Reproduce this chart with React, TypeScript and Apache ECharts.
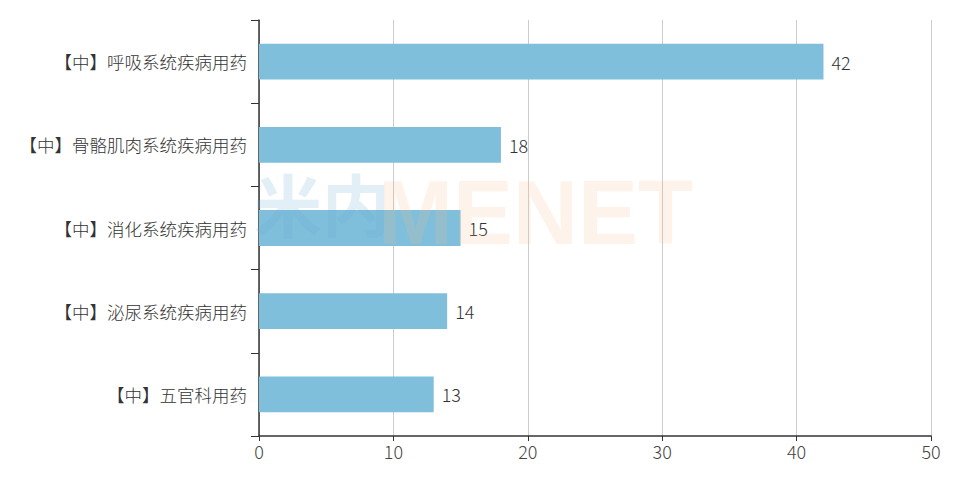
import React, { useEffect, useRef } from "react";
import * as echarts from "echarts";

const categories = [
  "【中】呼吸系统疾病用药",
  "【中】骨骼肌肉系统疾病用药",
  "【中】消化系统疾病用药",
  "【中】泌尿系统疾病用药",
  "【中】五官科用药",
];
const values = [42, 18, 15, 14, 13];
const xTicks = { min: 0, max: 50, interval: 10 };

export default function App() {
  const ref = useRef<HTMLDivElement>(null);
  useEffect(() => {
    if (!ref.current) return;
    const chart = echarts.init(ref.current, null, { renderer: "svg" });
    const font = "'Noto Sans CJK SC', 'Open Sans', sans-serif";
    chart.setOption({
      animation: false,
      backgroundColor: "#fff",
      grid: { left: 251, right: 36, top: 12, bottom: 49, containLabel: false },
      xAxis: {
        type: "value",
        min: xTicks.min,
        max: xTicks.max,
        interval: xTicks.interval,
        axisLine: { show: true, lineStyle: { color: "#333", width: 1.5 } },
        axisTick: { show: true, length: 5, lineStyle: { color: "#333" } },
        axisLabel: { color: "#444", fontSize: 18, fontWeight: 300, fontFamily: font, margin: 6 },
        splitLine: { show: true, lineStyle: { color: "#ccc", width: 1 } },
      },
      yAxis: {
        type: "category",
        inverse: true,
        data: categories,
        axisLine: { show: true, lineStyle: { color: "#333", width: 1.5 } },
        axisTick: { show: true, length: 8, lineStyle: { color: "#333" } },
        axisLabel: { color: "#333", fontSize: 17.5, fontWeight: 300, fontFamily: font, margin: 12 },
        splitLine: { show: false },
      },
      series: [
        {
          type: "bar",
          data: values,
          barWidth: "43%",
          itemStyle: { color: "#7fbfdb" },
          label: {
            show: true,
            position: "right",
            distance: 8,
            color: "#333",
            fontSize: 18,
            fontWeight: 300,
            fontFamily: font,
          },
        },
      ],
      graphic: [
        {
          type: "text",
          left: 246,
          top: 160,
          z: 100,
          style: {
            text: "米内",
            fontSize: 68,
            fontWeight: "bold",
            fontFamily: "'Noto Sans CJK SC', sans-serif",
            fill: "rgba(110,175,210,0.2)",
          },
        },
        {
          type: "text",
          left: 370,
          top: 160,
          z: 100,
          style: {
            text: "MENET",
            fontSize: 90,
            fontWeight: "bold",
            fontFamily: "'Liberation Sans', Arial, sans-serif",
            fill: "rgba(250,190,140,0.18)",
          },
        },
      ],
    });
    return () => chart.dispose();
  }, []);
  return <div ref={ref} style={{ width: 959, height: 477 }} />;
}
